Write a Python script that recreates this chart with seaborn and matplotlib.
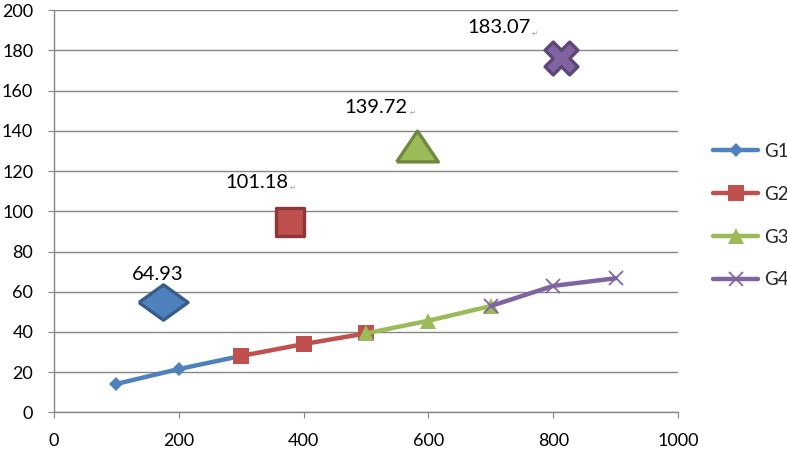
import numpy as np
import pandas as pd
import matplotlib
matplotlib.use("Agg")
import matplotlib.pyplot as plt
import seaborn as sns

# line series
groups = ["G1", "G2", "G3", "G4"]
g1_x = [100, 200, 300]
g1_y = [14.2, 21.6, 28.1]
g2_x = [300, 400, 500]
g2_y = [28.1, 34.0, 39.3]
g3_x = [500, 600, 700]
g3_y = [39.3, 45.6, 52.9]
g4_x = [700, 800, 900]
g4_y = [52.9, 62.9, 66.7]

# big summary markers and their labels
big_x = [174, 378, 581, 812]
big_y = [55.0, 94.9, 132.2, 176.4]
big_labels = ["64.93", "101.18", "139.72", "183.07"]
label_x = [125, 274, 466, 662]
label_y = [65.8, 111.7, 148.7, 188.4]

colors = ["#4F81BD", "#C0504D", "#9BBB59", "#8064A2"]
edges = ["#385D8A", "#8C3836", "#71893F", "#5C4776"]

df = pd.concat([
    pd.DataFrame({"x": g1_x, "y": g1_y, "group": "G1"}),
    pd.DataFrame({"x": g2_x, "y": g2_y, "group": "G2"}),
    pd.DataFrame({"x": g3_x, "y": g3_y, "group": "G3"}),
    pd.DataFrame({"x": g4_x, "y": g4_y, "group": "G4"}),
])

sns.set_style("white")
plt.rcParams["font.family"] = ["Lato", "DejaVu Sans"]

fig = plt.figure(figsize=(7.87, 4.49), dpi=100)
ax = fig.add_axes([0.0686, 0.0813, 0.7929, 0.8964])

line_markers = {"G1": "D", "G2": "s", "G3": "^", "G4": "x"}
line_msize = {"G1": 7.5, "G2": 11, "G3": 12, "G4": 10}

for i, g in enumerate(groups):
    sub = df[df["group"] == g]
    kw = dict(marker=line_markers[g], markersize=line_msize[g],
              markeredgecolor=colors[i], markerfacecolor=colors[i])
    if g == "G4":
        kw["markeredgewidth"] = 1.3
    else:
        kw["markeredgewidth"] = 0
    sns.lineplot(data=sub, x="x", y="y", color=colors[i], linewidth=3.2,
                 label=g, legend=False, ax=ax, zorder=3 + i, **kw)

# big markers
diamond = [(-1, 0), (0, 0.72), (1, 0), (0, -0.72), (-1, 0)]
triangle = [(-1, -0.74), (1, -0.74), (0, 0.74), (-1, -0.74)]
big_markers = [diamond, "s", triangle, "X"]
big_sizes = [1250, 420, 900, 560]

for i in range(4):
    sns.scatterplot(x=[big_x[i]], y=[big_y[i]], marker=big_markers[i],
                    s=big_sizes[i], color=colors[i], edgecolor=edges[i],
                    linewidth=2.4, ax=ax, zorder=10, legend=False)

for i in range(4):
    t = ax.text(label_x[i], label_y[i], big_labels[i], fontsize=14.5,
                ha="left", va="baseline", color="black")
    if i > 0:
        ax.annotate("\u21b5", xy=(1, 0), xycoords=t, xytext=(1, 0),
                    textcoords="offset points", fontsize=5, color="#999999",
                    ha="left", va="bottom", family="DejaVu Sans")

ax.set_xlim(0, 1000)
ax.set_ylim(0, 200)
ax.set_xticks(np.arange(0, 1001, 200))
ax.set_yticks(np.arange(0, 201, 20))
ax.set_xlabel("")
ax.set_ylabel("")
ax.yaxis.grid(True, color="#868686", linewidth=1.0)
ax.xaxis.grid(False)
ax.set_axisbelow(True)

for side in ["top", "right"]:
    ax.spines[side].set_visible(False)
for side in ["left", "bottom"]:
    ax.spines[side].set_color("#868686")
    ax.spines[side].set_linewidth(1.0)

ax.tick_params(axis="both", direction="out", length=4.5, width=0.8,
               color="#868686", labelsize=13, labelcolor="black")
ax.tick_params(axis="y", pad=10.5, left=True)
ax.tick_params(axis="x", pad=10, bottom=True)

handles = ax.lines[:4]
fig.legend(handles=handles, labels=groups, loc="upper left",
           bbox_to_anchor=(0.906, 0.682), frameon=False, fontsize=13.5,
           borderpad=0, borderaxespad=0, handlelength=2.4,
           handletextpad=0.3, labelspacing=1.38)

plt.savefig("out.png", dpi=100)
